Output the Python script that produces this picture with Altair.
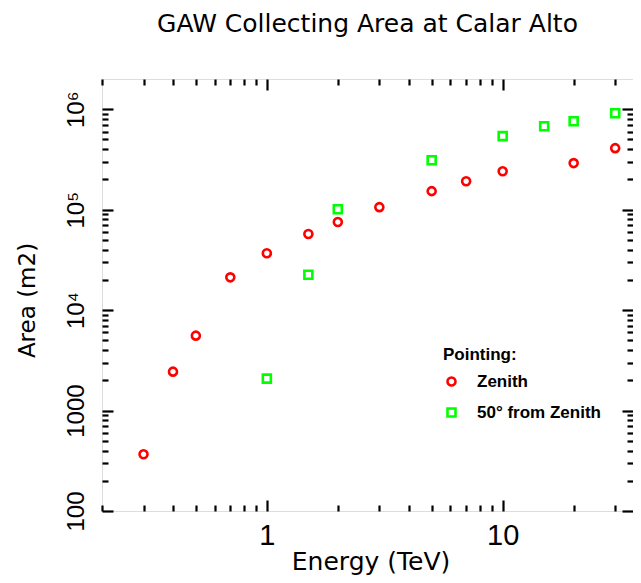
import altair as alt
import pandas as pd

# ---- data ----
energy_zenith = [0.3, 0.4, 0.5, 0.7, 1.0, 1.5, 2.0, 3.0, 5.0, 7.0, 10.0, 20.0, 30.0]
area_zenith = [367, 2440, 5570, 21200, 36800, 57300, 75300, 106000, 153000, 192000, 241000, 291000, 410000]

energy_50 = [1.0, 1.5, 2.0, 5.0, 10.0, 15.0, 20.0, 30.0]
area_50 = [2080, 22500, 101000, 311000, 540000, 678000, 760000, 912000]

series_names = ["Zenith", "50° from Zenith"]
series_colors = ["#ff0000", "#00ff00"]
series_shapes = ["circle", "square"]

x_label_values = [1, 10]
x_tick_values = [0.2, 0.3, 0.4, 0.5, 0.6, 0.7, 0.8, 0.9, 1, 2, 3, 4, 5, 6, 7, 8, 9, 10, 20, 30]
y_label_values = [100, 1000, 10000, 100000, 1000000]
y_label_texts = ["100", "1000", "10⁴", "10⁵", "10⁶"]
y_tick_values = [m * 10 ** k for k in range(2, 6) for m in range(1, 10)] + [1000000]

x_domain = [0.2, 35.7]
y_domain = [100, 2000000]

W, H = 531, 432

rows = [{"energy": e, "area": a, "series": series_names[0]} for e, a in zip(energy_zenith, area_zenith)]
rows += [{"energy": e, "area": a, "series": series_names[1]} for e, a in zip(energy_50, area_50)]
df = pd.DataFrame(rows)

xscale = alt.Scale(type="log", domain=x_domain, nice=False)
yscale = alt.Scale(type="log", domain=y_domain, nice=False)

major_test = "abs(log(datum.value)/LN10 - round(log(datum.value)/LN10)) < 0.001"
tick_size = {"condition": {"test": major_test, "value": 11}, "value": 6}

ylabel_expr = ""
for v, t in zip(y_label_values, y_label_texts):
    ylabel_expr += f"abs(datum.value - {v}) < 1 ? '{t}' : "
ylabel_expr += "''"

TITLE_FONT = "DejaVu Sans"
LABEL_FONT = "Liberation Sans"

x_label_axis = alt.Axis(
    orient="bottom", values=x_label_values, format="~g", ticks=False, tickSize=0,
    domain=False, grid=False, labelFont=LABEL_FONT, labelFontSize=29,
    labelColor="black", labelBaseline="alphabetic", labelPadding=33,
    title="Energy (TeV)", titleFont=TITLE_FONT, titleFontSize=25,
    titleFontWeight="normal", titleColor="black", titleX=W / 2 + 3, titleY=58,
    titleBaseline="alphabetic", titleAlign="center",
)
y_label_axis = alt.Axis(
    orient="left", values=y_label_values, labelExpr=ylabel_expr, ticks=False,
    tickSize=0, domain=False, grid=False, labelFont="Liberation Sans Narrow, Liberation Sans",
    labelFontSize=24, labelColor="black", labelAngle=270, labelAlign="center",
    labelBaseline="alphabetic", labelPadding=19,
    title="Area (m2)", titleFont=TITLE_FONT, titleFontSize=23, titleFontWeight="normal",
    titleColor="black", titleAngle=270, titleX=-75, titleY=H / 2 + 5,
    titleAlign="center", titleBaseline="middle",
)


def tick_axis(orient, values, offset):
    return alt.Axis(
        orient=orient, values=values, labels=False, domain=False, grid=False,
        title=None, ticks=True, tickSize=tick_size, tickWidth=2.2, tickColor="black",
        offset=offset,
    )


base = alt.Chart(df)

points = base.mark_point(filled=False, strokeWidth=2.6, size=64, opacity=1).encode(
    x=alt.X("energy:Q", scale=xscale, axis=x_label_axis),
    y=alt.Y("area:Q", scale=yscale, axis=y_label_axis),
    color=alt.Color(
        "series:N",
        scale=alt.Scale(domain=series_names, range=series_colors),
        legend=alt.Legend(
            title="Pointing:", orient="none", legendX=341, legendY=268,
            titleFont=LABEL_FONT, titleFontSize=17, titleFontWeight="bold",
            titleColor="black", titlePadding=9, labelFont=LABEL_FONT,
            labelFontSize=17, labelFontWeight="bold", labelColor="black",
            labelOffset=17, rowPadding=12, symbolSize=64, symbolStrokeWidth=2.6,
            padding=0,
        ),
    ),
    shape=alt.Shape(
        "series:N",
        scale=alt.Scale(domain=series_names, range=series_shapes),
        legend=alt.Legend(title="Pointing:"),
    ),
)

ticks_inner_a = base.mark_point(opacity=0).encode(
    x=alt.X("energy:Q", scale=xscale, axis=tick_axis("top", x_tick_values, -H)),
    y=alt.Y("area:Q", scale=yscale, axis=tick_axis("right", y_tick_values, -W)),
)
ticks_inner_b = base.mark_point(opacity=0).encode(
    x=alt.X("energy:Q", scale=xscale, axis=tick_axis("bottom", x_tick_values, -H)),
    y=alt.Y("area:Q", scale=yscale, axis=tick_axis("left", y_tick_values, -W)),
)

chart = (
    alt.layer(points, ticks_inner_a, ticks_inner_b)
    .resolve_axis(x="independent", y="independent")
    .properties(
        width=W,
        height=H,
        autosize="none",
        padding={"left": 94, "top": 71, "right": 0, "bottom": 64},
        title=alt.TitleParams(
            "GAW Collecting Area at Calar Alto", font=TITLE_FONT, fontSize=25,
            fontWeight="normal", color="black", anchor="middle", baseline="alphabetic",
            offset=21,
        ),
    )
    .configure_view(stroke="black", strokeWidth=3, fill="white")
    .configure(background="white")
)

chart.save("out.html", embed_options={"renderer": "svg", "actions": False})
